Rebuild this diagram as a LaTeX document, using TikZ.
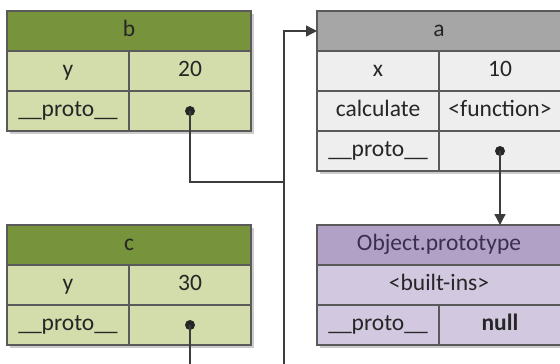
\documentclass[tikz,border=0pt]{standalone}
\usepackage{fontspec}
\setmainfont{Carlito}
\usetikzlibrary{arrows.meta,backgrounds}

\definecolor{greenhead}{HTML}{77933C}
\definecolor{greencell}{HTML}{D2DDAB}
\definecolor{grayhead}{HTML}{A6A6A6}
\definecolor{graycell}{HTML}{EEEEEE}
\definecolor{purplehead}{HTML}{B2A1C7}
\definecolor{purplecell}{HTML}{D2C9E0}
\definecolor{purpleink}{HTML}{3A2F4E}
\definecolor{inkgray}{HTML}{262626}
\definecolor{edgegray}{HTML}{5A5A5A}
\definecolor{linegray}{HTML}{3C3C3C}

\newcommand\cellfont{\fontsize{23.5}{28}\selectfont}

\begin{document}
\begin{tikzpicture}[x=1pt,y=-1pt,
  cell/.style={draw=edgegray, line width=1.2pt, anchor=north west, inner sep=0pt, outer sep=0pt,
    minimum height=40pt, text height=15pt, text depth=5pt, text=inkgray, font=\cellfont},
  half/.style={cell, minimum width=122pt},
  full/.style={cell, minimum width=244pt},
  dot/.style={circle, fill=inkgray, inner sep=0pt, minimum size=10pt},
  link/.style={draw=linegray, line width=1.4pt},
  tip/.style={-{Triangle[length=11pt,width=11pt]}},
  boxshadow/.style={fill=black!40, opacity=0.5}]

% Page
\useasboundingbox (0,0) rectangle (560,364);
\clip (0,0) rectangle (560,364);

% Object b
\node[full, fill=greenhead] (b-head) at (7,11) {b};
\node[half, fill=greencell] (b-y) at (b-head.south west) {y};
\node[half, fill=greencell] (b-yv) at (b-y.north east) {20};
\node[half, fill=greencell] (b-proto) at (b-y.south west) {\_\_proto\_\_};
\node[half, fill=greencell] (b-protov) at (b-proto.north east) {};
\node[dot] (b-dot) at (b-protov) {};

% Object c
\node[full, fill=greenhead] (c-head) at (7,225) {c};
\node[half, fill=greencell] (c-y) at (c-head.south west) {y};
\node[half, fill=greencell] (c-yv) at (c-y.north east) {30};
\node[half, fill=greencell] (c-proto) at (c-y.south west) {\_\_proto\_\_};
\node[half, fill=greencell] (c-protov) at (c-proto.north east) {};
\node[dot] (c-dot) at (c-protov) {};

% Object a
\node[full, fill=grayhead] (a-head) at (317,11) {a};
\node[half, fill=graycell] (a-x) at (a-head.south west) {x};
\node[half, fill=graycell] (a-xv) at (a-x.north east) {10};
\node[half, fill=graycell] (a-calc) at (a-x.south west) {calculate};
\node[half, fill=graycell] (a-calcv) at (a-calc.north east) {<function>};
\node[half, fill=graycell] (a-proto) at (a-calc.south west) {\_\_proto\_\_};
\node[half, fill=graycell] (a-protov) at (a-proto.north east) {};
\node[dot] (a-dot) at (a-protov) {};

% Object.prototype
\node[full, fill=purplehead, text=purpleink] (o-head) at (317,225) {Object.prototype};
\node[full, fill=purplecell] (o-built) at (o-head.south west) {<built-ins>};
\node[half, fill=purplecell] (o-proto) at (o-built.south west) {\_\_proto\_\_};
\node[half, fill=purplecell, font=\cellfont\bfseries] (o-protov) at (o-proto.north east) {null};

% Shadows
\begin{scope}[on background layer]
  \foreach \tl/\br in {b-head/b-protov, c-head/c-protov, a-head/a-protov, o-head/o-protov}
    \fill[boxshadow] ([shift={(3,3)}]\tl.north west) rectangle ([shift={(3,3)}]\br.south east);
\end{scope}

% Prototype links
\coordinate (b-bend) at (284,182);
\coordinate (c-bend) at (284,390);
\draw[link] (b-dot.center) |- (b-bend);
\draw[link, tip] (c-dot.center) |- (c-bend) |- (a-head.west);
\draw[link, tip] (a-dot.center) -- (a-dot.center |- o-head.north);
\end{tikzpicture}
\end{document}
